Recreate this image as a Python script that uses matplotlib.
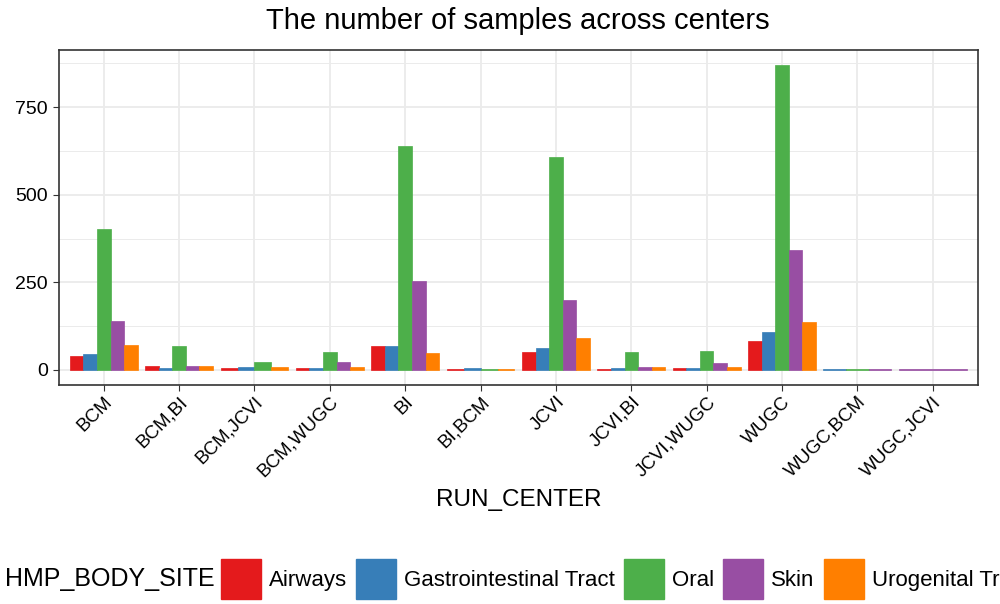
import numpy as np
import matplotlib
matplotlib.use("Agg")
import matplotlib.pyplot as plt
from matplotlib.patches import Patch
from matplotlib.ticker import MultipleLocator

plt.rcParams['font.family'] = ['Liberation Sans', 'DejaVu Sans']

centers = ["BCM", "BCM,BI", "BCM,JCVI", "BCM,WUGC", "BI", "BI,BCM", "JCVI",
           "JCVI,BI", "JCVI,WUGC", "WUGC", "WUGC,BCM", "WUGC,JCVI"]
sites = ["Airways", "Gastrointestinal Tract", "Oral", "Skin", "Urogenital Tract"]
colors = ["#E41A1C", "#377EB8", "#4DAF4A", "#984EA3", "#FF7F00"]
nan = np.nan
airways = [39, 10, 5, 6, 67, 1, 50, 3, 5, 81, nan, nan]
gastro = [45, 5, 8, 5, 67, 5, 63, 6, 5, 108, 1, nan]
oral = [402, 68, 22, 50, 640, 3, 607, 50, 54, 870, 3, nan]
skin = [140, 10, nan, 21, 254, nan, 199, 8, 19, 341, 1, 1]
urogenital = [71, 10, 8, 9, 49, 1, 91, 9, 9, 136, nan, nan]
series = [airways, gastro, oral, skin, urogenital]

fig = plt.figure(figsize=(10, 6.04), dpi=100)
ax = fig.add_axes([0.0585, 0.3626, 0.9195, 0.5546])

total_w = 0.9
for i in range(len(centers)):
    present = [k for k in range(len(sites)) if not np.isnan(series[k][i])]
    n = len(present)
    w = total_w / n
    for j, k in enumerate(present):
        x = i - total_w / 2 + w * (j + 0.5)
        ax.bar(x, series[k][i], width=w, color=colors[k], edgecolor=colors[k],
               linewidth=0.5, zorder=3)

ax.set_xlim(-0.6, len(centers) - 1 + 0.6)
ax.set_ylim(-43.5, 913.5)
ax.set_xticks(range(len(centers)))
ax.set_xticklabels(centers, rotation=45, ha='right', rotation_mode='anchor', fontsize=13.5)
ax.yaxis.set_major_locator(MultipleLocator(250))
ax.yaxis.set_minor_locator(MultipleLocator(125))
ax.tick_params(axis='y', labelsize=14, length=4, color='#333333', which='major')
ax.tick_params(axis='x', length=4, color='#333333', pad=2)
ax.tick_params(axis='y', which='minor', length=0)
ax.grid(which='major', color='#EBEBEB', linewidth=1.3, zorder=0)
ax.grid(which='minor', axis='y', color='#EBEBEB', linewidth=0.7, zorder=0)
ax.set_axisbelow(True)
for s in ax.spines.values():
    s.set_color('#333333')
    s.set_linewidth(1.2)

ax.set_xlabel("RUN_CENTER", fontsize=17.5, labelpad=6)
ax.set_title("The number of samples across centers", fontsize=21, pad=15)

fig.text(0.005, 1 - 579 / 604, "HMP_BODY_SITE", fontsize=18, va='center', ha='left')
handles = [Patch(facecolor=c, edgecolor=c, label=s) for c, s in zip(colors, sites)]
fig.legend(handles=handles, loc='center left', bbox_to_anchor=(0.221, 1 - 579 / 604),
           ncol=5, frameon=False, fontsize=16, handlelength=1.8, handleheight=2.4,
           handletextpad=0.35, columnspacing=0.42, borderaxespad=0, borderpad=0)

fig.savefig("out.png", dpi=100)
